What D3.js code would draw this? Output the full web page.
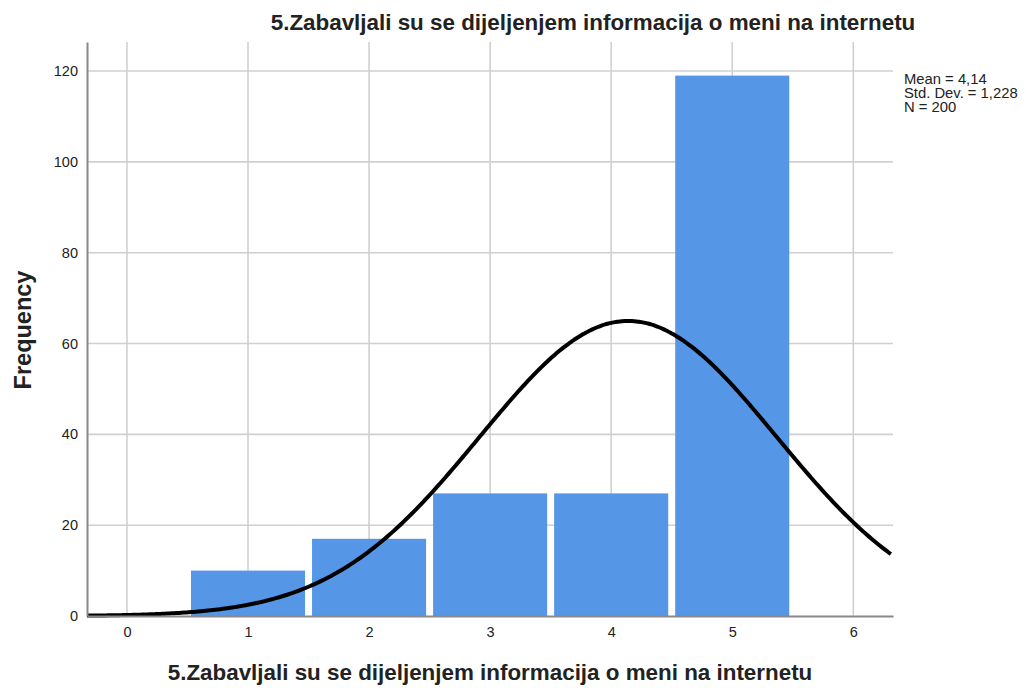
<!DOCTYPE html>
<html>
<head>
<meta charset="utf-8">
<script src="https://cdn.jsdelivr.net/npm/d3@7"></script>
<style>
  body { margin: 0; background: #fff; }
  text { font-family: Arial, "Liberation Sans", sans-serif; }
</style>
</head>
<body>
<div id="chart"></div>
<script>
// histogram data
var categories = [1, 2, 3, 4, 5];
var frequencies = [10, 17, 27, 27, 119];
var xTicks = [0, 1, 2, 3, 4, 5, 6];
var yTicks = [0, 20, 40, 60, 80, 100, 120];
var statMean = 4.14;
var statSd = 1.228;
var statN = 200;
var statLines = ["Mean = 4,14", "Std. Dev. = 1,228", "N = 200"];

var width = 1026, height = 688;
var margin = {top: 42, right: 133, bottom: 72, left: 87};
var innerW = width - margin.left - margin.right;
var innerH = height - margin.top - margin.bottom;

var svg = d3.select("#chart").append("svg")
    .attr("width", width)
    .attr("height", height);

var x = d3.scaleLinear().domain([-0.33, 6.328]).range([0, innerW]);
var y = d3.scaleLinear().domain([0, 126.4]).range([innerH, 0]);

var g = svg.append("g")
    .attr("transform", "translate(" + margin.left + "," + margin.top + ")");

// gridlines
g.selectAll(".vgrid").data(xTicks).enter().append("line")
    .attr("x1", function(d) { return x(d); })
    .attr("x2", function(d) { return x(d); })
    .attr("y1", 0).attr("y2", innerH)
    .attr("stroke", "#d0d0d0").attr("stroke-width", 1.6);

g.selectAll(".hgrid").data(yTicks.slice(1)).enter().append("line")
    .attr("x1", 0).attr("x2", innerW)
    .attr("y1", function(d) { return y(d); })
    .attr("y2", function(d) { return y(d); })
    .attr("stroke", "#d0d0d0").attr("stroke-width", 1.6);

// bars
g.selectAll(".bar").data(categories).enter().append("rect")
    .attr("x", function(d) { return x(d - 0.5) + 3.5; })
    .attr("width", function(d) { return x(d + 0.5) - x(d - 0.5) - 7; })
    .attr("y", function(d, i) { return y(frequencies[i]); })
    .attr("height", function(d, i) { return innerH - y(frequencies[i]); })
    .attr("fill", "#5596e6");

// normal curve from the reported stats
var curvePts = d3.range(-0.33, 6.33, 0.02).map(function(v) {
    var z = (v - statMean) / statSd;
    return [v, statN * Math.exp(-0.5 * z * z) / (statSd * Math.sqrt(2 * Math.PI))];
});
var line = d3.line()
    .x(function(d) { return x(d[0]); })
    .y(function(d) { return y(d[1]); })
    .curve(d3.curveMonotoneX);
g.append("path")
    .attr("d", line(curvePts))
    .attr("fill", "none")
    .attr("stroke", "#000")
    .attr("stroke-width", 4);

// axes
var xAxis = d3.axisBottom(x).tickValues(xTicks).tickFormat(d3.format("d"))
    .tickSize(0).tickPadding(11);
var gx = g.append("g").attr("transform", "translate(0," + innerH + ")").call(xAxis);
gx.select(".domain").attr("stroke", "#888").attr("stroke-width", 2);
gx.selectAll("text").attr("font-size", 14.5).attr("fill", "#222")
    .style("font-family", "Arial, 'Liberation Sans', sans-serif");

var yAxis = d3.axisLeft(y).tickValues(yTicks).tickFormat(d3.format("d"))
    .tickSize(0).tickPadding(9);
var gy = g.append("g").call(yAxis);
gy.select(".domain").attr("stroke", "#888").attr("stroke-width", 2);
gy.selectAll("text").attr("font-size", 14.5).attr("fill", "#222")
    .style("font-family", "Arial, 'Liberation Sans', sans-serif");

// title and labels
svg.append("text")
    .attr("x", 593).attr("y", 30)
    .attr("text-anchor", "middle")
    .attr("font-size", 22.4).attr("font-weight", "bold").attr("fill", "#222")
    .text("5.Zabavljali su se dijeljenjem informacija o meni na internetu");

svg.append("text")
    .attr("x", margin.left + innerW / 2).attr("y", 680)
    .attr("text-anchor", "middle")
    .attr("font-size", 22.4).attr("font-weight", "bold").attr("fill", "#222")
    .text("5.Zabavljali su se dijeljenjem informacija o meni na internetu");

svg.append("text")
    .attr("transform", "translate(31," + (margin.top + innerH / 2 + 1) + ") rotate(-90)")
    .attr("text-anchor", "middle")
    .attr("font-size", 23.5).attr("font-weight", "bold").attr("fill", "#222")
    .text("Frequency");

// stats box
svg.selectAll(".stat").data(statLines).enter().append("text")
    .attr("x", 904)
    .attr("y", function(d, i) { return 84 + i * 14; })
    .attr("font-size", 14.8).attr("fill", "#222")
    .text(function(d) { return d; });
</script>
</body>
</html>
